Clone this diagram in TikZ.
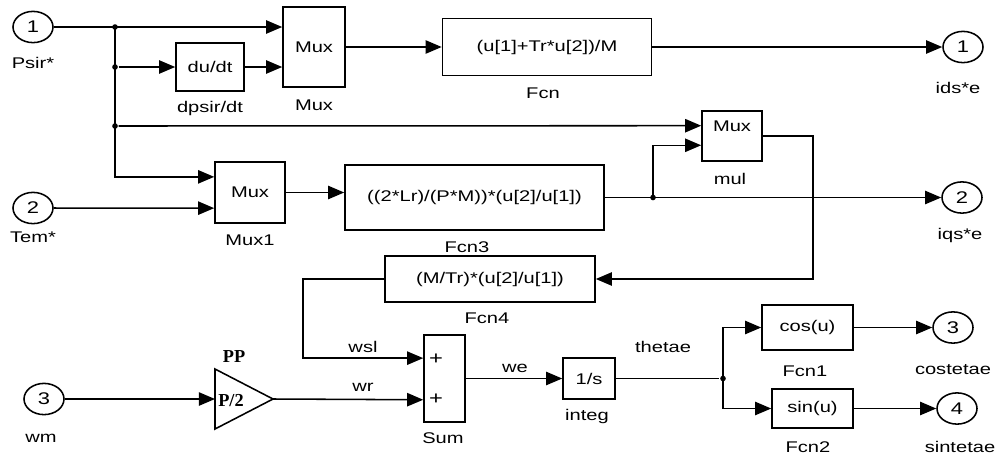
\documentclass[tikz,border=0pt]{standalone}
\usepackage{fontspec}
\setmainfont{Liberation Sans}[FakeStretch=1.3]
\newfontfamily\gainfont{Liberation Serif}
\usetikzlibrary{arrows.meta, calc, shapes.geometric}
\tikzset{
  blk/.style={draw, fill=white, inner sep=1pt},
  port/.style={draw, ellipse, minimum width=1.0cm, minimum height=0.78cm, inner sep=0pt, font=\fontsize{12}{13}\selectfont},
  dot/.style={circle, fill, inner sep=0pt, minimum size=4pt},
  gaintext/.style={font={\fontsize{13}{13}\gainfont\bfseries}},
}
\begin{document}
\begin{tikzpicture}[x=0.025cm, y=-0.025cm, >={Triangle[length=11.5pt,width=9.5pt]}, line width=1.1pt, font=\fontsize{11}{13}\selectfont]
  \useasboundingbox (0,0) rectangle (999,455);
  % in and out ports
  \node[port] (in1) at (33,27) {1};
  \node[port] (in2) at (33,208) {2};
  \node[port] (in3) at (44,399) {3};
  \node[port] (out1) at (963,47) {1};
  \node[port] (out2) at (962,197.5) {2};
  \node[port] (out3) at (953,327.5) {3};
  \node[port] (out4) at (957,408.5) {4};
  \node (lpsir) at (33,63) {Psir*};
  \node (ltem) at (33,237) {Tem*};
  \node (lwm) at (41,438) {wm};
  \node (lids) at (958,88) {ids*e};
  \node (liqs) at (960,235) {iqs*e};
  \node (lcos) at (953,370) {costetae};
  \node (lsin) at (960,447) {sintetae};
  % blocks
  \node[blk, minimum width=1.55cm, minimum height=2cm] (mux) at (314,47) {Mux};
  \node[blk, minimum width=1.7cm, minimum height=1.2cm] (dpsi) at (210,67) {du/dt};
  \node[blk, minimum width=5.225cm, minimum height=1.425cm] (fcn) at (547,47) {(u[1]+Tr*u[2])/M};
  \node[blk, minimum width=1.5cm, minimum height=1.25cm, text height=8pt, text depth=15pt] (mul) at (732,136) {Mux};
  \node[blk, minimum width=1.75cm, minimum height=1.525cm] (mux1) at (250,192.5) {Mux};
  \node[blk, minimum width=6.475cm, minimum height=1.625cm] (fcn3) at (474.5,197.5) {((2*Lr)/(P*M))*(u[2]/u[1])};
  \node[blk, minimum width=5.25cm, minimum height=1.15cm] (fcn4) at (490,279) {(M/Tr)*(u[2]/u[1])};
  \node[blk, minimum width=1.025cm, minimum height=2.175cm] (sum) at (444.5,378.5) {};
  \node[font=\fontsize{13}{13}\selectfont] (plusA) at (436,359) {+};
  \node[font=\fontsize{13}{13}\selectfont] (plusB) at (436,399) {+};
  \node[blk, minimum width=1.3cm, minimum height=1.025cm] (integ) at (589,378.5) {1/s};
  \node[blk, minimum width=2.275cm, minimum height=1.125cm] (fcn1) at (807.5,327.5) {cos(u)};
  \node[blk, minimum width=2.025cm, minimum height=0.975cm] (fcn2) at (812.5,408.5) {sin(u)};
  % gain
  \draw (215,369) -- (273,399) -- (215,429) -- cycle;
  \coordinate (gin) at (215,399);
  \coordinate (gout) at (273,399);
  \node[gaintext] (gval) at (231,401) {P/2};
  \node[gaintext] (lpp) at (234,357) {PP};
  % block names
  \node (lmux) at (314,105) {Mux};
  \node (ldpsi) at (210,108) {dpsir/dt};
  \node (lfcn) at (543,93) {Fcn};
  \node (lmul) at (730,179) {mul};
  \node (lmux1) at (250,240) {Mux1};
  \node (lfcn3) at (467,247) {Fcn3};
  \node (lfcn4) at (487,318) {Fcn4};
  \node (lsum) at (443,438) {Sum};
  \node (linteg) at (587,416) {integ};
  \node (lfcn1) at (805,371) {Fcn1};
  \node (lfcn2) at (808,447) {Fcn2};
  % signal names
  \node (lwsl) at (363,347) {wsl};
  \node (lwr) at (363,387) {wr};
  \node (lwe) at (515,368) {we};
  \node (lth) at (663,347) {thetae};
  % junctions
  \node[dot] (jA) at (115,27) {};
  \node[dot] (jB) at (115,67) {};
  \node[dot] (jC) at (115,126) {};
  \node[dot] (jD) at (653,197.5) {};
  \node[dot] (jE) at (723,378.5) {};
  % lines
  \draw[->] (in1) -- (mux.west |- in1);
  \draw[->] (jA.center) |- ($(mux1.north west)!.25!(mux1.south west)$);
  \draw[->] (jB) -- (dpsi);
  \draw[->] (dpsi) -- (mux.west |- dpsi);
  \draw[->] (jC) -- ($(mul.north west)!.3!(mul.south west)$);
  \draw[->] (mux) -- (fcn);
  \draw[->] (fcn) -- (out1);
  \draw[->] (in2) -- ($(mux1.north west)!.75!(mux1.south west)$);
  \draw[->] (mux1) -- (fcn3.west |- mux1);
  \draw[->] (fcn3) -- (out2);
  \draw[->] (jD.center) |- ($(mul.north west)!.68!(mul.south west)$);
  \draw[->] (mul.east) -- ++(50,0) |- (fcn4.east);
  \draw[->] (fcn4.west) -- ++(-81,0) |- ($(sum.north west)!.27!(sum.south west)$);
  \draw[->] (in3) -- (gin);
  \draw[->] (gout) -- ($(sum.north west)!.74!(sum.south west)$);
  \draw[->] (sum) -- (integ);
  \draw (integ) -- (jE);
  \draw[->] (jE.center) |- (fcn1);
  \draw[->] (jE.center) |- (fcn2);
  \draw[->] (fcn1) -- (out3);
  \draw[->] (fcn2) -- (out4);
\end{tikzpicture}
\end{document}
